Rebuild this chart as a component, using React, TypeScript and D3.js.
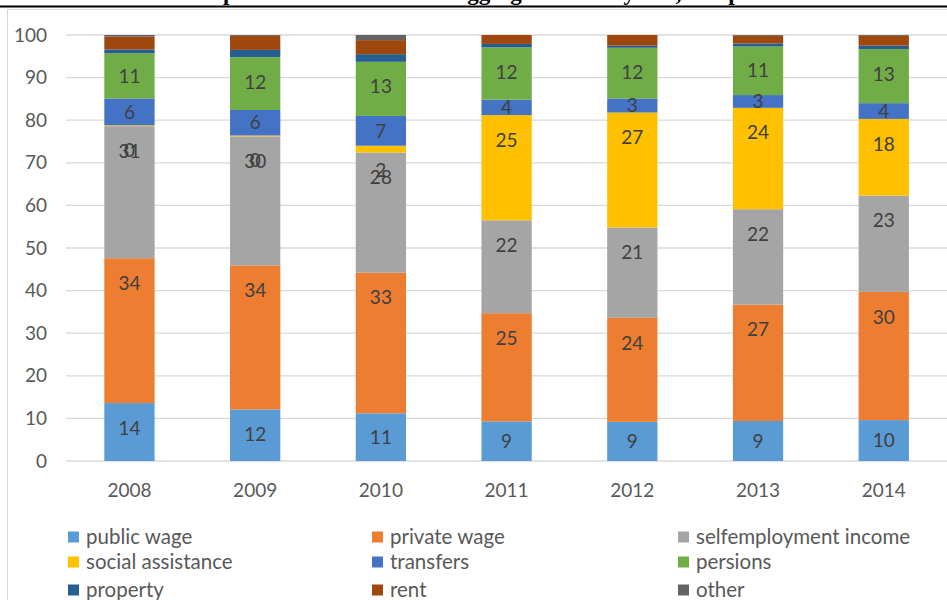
import { useMemo } from 'react';
import * as d3 from 'd3';

const YEARS = ['2008', '2009', '2010', '2011', '2012', '2013', '2014'];

const SERIES = [
  'public wage', 'private wage', 'selfemployment income',
  'social assistance', 'transfers', 'persions',
  'property', 'rent', 'other',
];

// shares in percent, one array per income component (2008..2014)
const publicWage = [13.6, 12.1, 11.2, 9.3, 9.2, 9.4, 9.6];
const privateWage = [34.0, 33.8, 33.0, 25.4, 24.4, 27.3, 30.1];
const selfEmployment = [31.0, 30.3, 28.2, 21.8, 21.2, 22.4, 22.6];
const socialAssistance = [0.2, 0.2, 1.6, 24.7, 27.0, 23.8, 18.0];
const transfers = [6.3, 6.0, 7.0, 3.6, 3.3, 3.0, 3.7];
const persions = [10.6, 12.4, 12.7, 12.3, 11.9, 11.4, 12.7];
const property = [0.9, 1.7, 1.8, 0.8, 0.5, 0.7, 0.8];
const rent = [3.0, 3.3, 3.3, 2.1, 2.5, 1.8, 2.3];
const other = [0.4, 0.2, 1.2, 0.0, 0.0, 0.2, 0.2];

const VALUES = [publicWage, privateWage, selfEmployment, socialAssistance, transfers, persions, property, rent, other];
const Y_TICKS = [0, 10, 20, 30, 40, 50, 60, 70, 80, 90, 100];

const COLORS = ['#5B9BD5', '#ED7D31', '#A5A5A5', '#FFC000', '#4472C4', '#70AD47', '#255E91', '#9E480E', '#636363'];
const LABELLED = 6; // only the first six components carry value labels

const W = 947;
const H = 600;
const FONT = 'Lato, "Open Sans", sans-serif';
const TITLE = '1Shares of income components in income with aggregate across years, compared';

type Row = Record<string, number | string>;

export default function App() {
  const rows: Row[] = useMemo(
    () => YEARS.map((yr, i) => {
      const r: Row = { year: yr };
      SERIES.forEach((s, k) => { r[s] = VALUES[k][i]; });
      return r;
    }),
    [],
  );

  const stacked = useMemo(
    () => d3.stack<Row>().keys(SERIES).value((d, k) => d[k] as number)(rows),
    [rows],
  );

  const x = d3.scaleBand<string>().domain(YEARS).range([66.6, 946.6]).paddingInner(0.6).paddingOuter(0.3);
  const y = d3.scaleLinear().domain([0, 100]).range([461, 35]);

  // labels sit near the inside end of a segment; mid-sized segments get centred labels
  const labelY = (lo: number, hi: number) => {
    const top = y(hi);
    const h = y(lo) - top;
    if (h >= 50 || h < 9) return top + 25;
    return top + h / 2;
  };

  const legendCols = [68, 372, 678];
  const legendRows = [537, 562, 590];

  return (
    <svg
      width={W}
      height={H}
      style={{ position: 'absolute', left: 0, top: 0, background: '#fff' }}
      fontFamily={FONT}
    >
      {/* clipped caption above the chart */}
      <text x={-2} y={0} fontFamily='"Liberation Serif", serif' fontWeight="bold" fontSize={23} fill="#000">
        {TITLE}
      </text>
      <rect x={0} y={5.5} width={W} height={2} fill="#000" />

      {/* chart area frame */}
      <rect x={7.5} y={9.5} width={W + 10} height={H} fill="#fff" stroke="#d9d9d9" strokeWidth={1} />

      {/* gridlines + y tick labels */}
      {Y_TICKS.map(t => (
        <g key={t}>
          <line x1={66} x2={W} y1={y(t)} y2={y(t)} stroke="#d9d9d9" strokeWidth={1.3} />
          <text x={47} y={y(t)} dy="0.35em" textAnchor="end" fontSize={19} fill="#595959">{t}</text>
        </g>
      ))}

      {/* stacked bars */}
      {stacked.map((layer, k) => (
        <g key={layer.key} fill={COLORS[k]}>
          {layer.map((seg, i) => (
            <rect
              key={YEARS[i]}
              x={x(YEARS[i])}
              width={x.bandwidth()}
              y={y(seg[1])}
              height={Math.max(0, y(seg[0]) - y(seg[1]))}
            />
          ))}
        </g>
      ))}

      {/* value labels */}
      {stacked.slice(0, LABELLED).map(layer => (
        <g key={`lbl-${layer.key}`}>
          {layer.map((seg, i) => {
            const v = seg[1] - seg[0];
            if (v <= 0) return null;
            return (
              <text
                key={YEARS[i]}
                x={(x(YEARS[i]) ?? 0) + x.bandwidth() / 2}
                y={labelY(seg[0], seg[1])}
                dy="0.35em"
                textAnchor="middle"
                fontSize={19}
                fill="#404040"
              >
                {Math.round(v)}
              </text>
            );
          })}
        </g>
      ))}

      {/* x axis labels */}
      {YEARS.map(yr => (
        <text
          key={yr}
          x={(x(yr) ?? 0) + x.bandwidth() / 2}
          y={490}
          dy="0.35em"
          textAnchor="middle"
          fontSize={19}
          fill="#595959"
        >
          {yr}
        </text>
      ))}

      {/* legend */}
      {SERIES.map((s, k) => {
        const lx = legendCols[k % 3];
        const ly = legendRows[Math.floor(k / 3)];
        return (
          <g key={s}>
            <rect x={lx} y={ly - 5.5} width={11} height={11} fill={COLORS[k]} />
            <text x={lx + 18} y={ly} dy="0.35em" fontSize={20.5} fill="#595959">{s}</text>
          </g>
        );
      })}
    </svg>
  );
}
